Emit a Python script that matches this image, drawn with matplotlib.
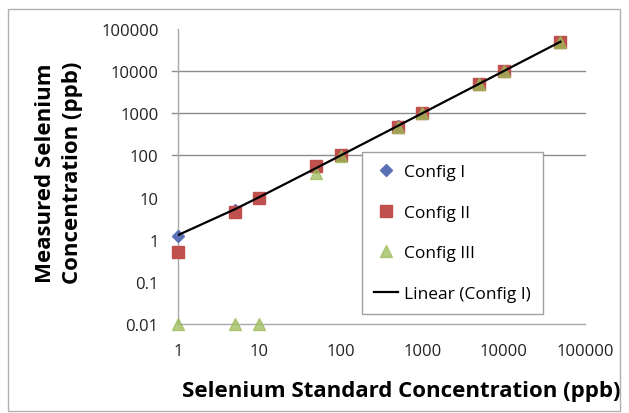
import numpy as np
import matplotlib.pyplot as plt
from matplotlib.patches import Rectangle

# ============================================================
# DATA
# ============================================================

std_conc = [1, 5, 10, 50, 100, 500, 1000, 5000, 10000, 50000]

config_1 = [1.2, 5.2, 10, 52, 100, 500, 1000, 5000, 10000, 50000]
config_2 = [0.5, 4.5, 10, 55, 100, 480, 1000, 5000, 10000, 50000]
config_3 = [0.01, 0.01, 0.01, 38, 95, 480, 1000, 5000, 10000, 50000]

x_ticks = [1, 10, 100, 1000, 10000, 100000]
x_tick_labels = ["1", "10", "100", "1000", "10000", "100000"]
y_ticks = [0.01, 0.1, 1, 10, 100, 1000, 10000, 100000]
y_tick_labels = ["0.01", "0.1", "1", "10", "100", "1000", "10000", "100000"]
grid_levels = [100, 1000, 10000]

# ============================================================
# TREND LINE (linear fit of Config I)
# ============================================================

slope, intercept = np.polyfit(std_conc, config_1, 1)
trend_x = np.array(std_conc, dtype=float)
trend_y = slope * trend_x + intercept

# ============================================================
# FIGURE
# ============================================================

plt.rcParams['font.family'] = ['Open Sans', 'DejaVu Sans']

fig = plt.figure(figsize=(6.29, 4.14), dpi=100)
ax = fig.add_axes([0.283, 0.215, 0.647, 0.7125])

for lvl in grid_levels:
    ax.axhline(lvl, xmin=-0.015, color="#8c8c8c", linewidth=1.0,
               zorder=1, clip_on=False)

ax.plot(std_conc, config_1, linestyle="none", marker="D", markersize=6,
        color="#5b6fb5", label="Config I", zorder=3, clip_on=False)
ax.plot(std_conc, config_2, linestyle="none", marker="s", markersize=9,
        color="#c0504d", label="Config II", zorder=4, clip_on=False)
ax.plot(std_conc, config_3, linestyle="none", marker="^", markersize=8,
        color="#9bbb59", alpha=0.75, label="Config III", zorder=5,
        clip_on=False)
ax.plot(trend_x, trend_y, color="black", linewidth=1.6,
        label="Linear (Config I)", zorder=6)

ax.set_xscale("log")
ax.set_yscale("log")
ax.set_xlim(1, 100000)
ax.set_ylim(0.01, 100000)

ax.set_xticks(x_ticks)
ax.set_xticklabels(x_tick_labels)
ax.set_yticks(y_ticks)
ax.set_yticklabels(y_tick_labels)
ax.minorticks_off()

ax.tick_params(axis="y", labelsize=12, length=0, pad=14,
               labelcolor="#222222")
ax.tick_params(axis="x", labelsize=12, length=0, pad=14,
               labelcolor="#222222")

for side in ["top", "right"]:
    ax.spines[side].set_visible(False)
for side in ["left", "bottom"]:
    ax.spines[side].set_color("#a8a8a8")
    ax.spines[side].set_linewidth(1.0)

ax.set_xlabel("Selenium Standard Concentration (ppb)", fontsize=16,
              fontweight="bold", va="center")
ax.xaxis.set_label_coords(0.548, -0.225)
ax.set_ylabel("Measured Selenium\nConcentration (ppb)", fontsize=16,
              fontweight="bold", va="center", linespacing=1.35)
ax.yaxis.set_label_coords(-0.292, 0.515)

leg = ax.legend(loc="upper left", bbox_to_anchor=(0.452, 0.583),
                fontsize=12.5, labelspacing=1.4, handlelength=1.4,
                handletextpad=0.3, borderpad=0.7, borderaxespad=0,
                frameon=True, fancybox=False, framealpha=1.0,
                facecolor="white", edgecolor="#a0a0a0")
leg.set_zorder(10)

# outer chart border
fig.patches.append(Rectangle((8 / 629, 2 / 414), 612 / 629, 402 / 414,
                             transform=fig.transFigure, fill=False,
                             edgecolor="#b0b0b0", linewidth=1.0))

plt.savefig("out.png", dpi=100)
